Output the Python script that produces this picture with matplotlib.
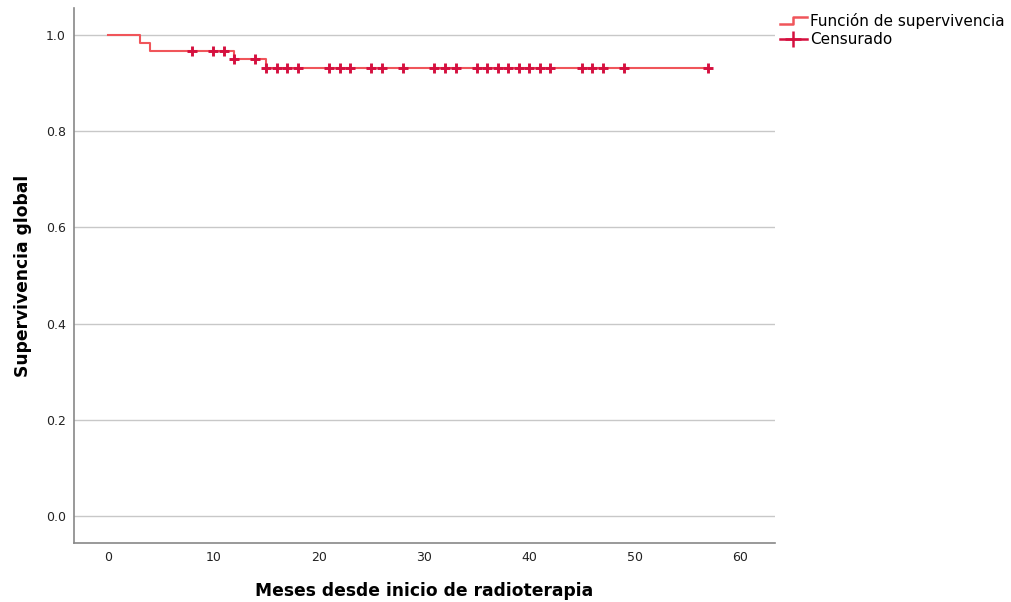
import matplotlib
matplotlib.use('Agg')
import matplotlib.pyplot as plt
from matplotlib.lines import Line2D
from matplotlib.legend_handler import HandlerBase

# Kaplan-Meier step function (time in months, survival)
step_times = [0, 3, 4, 12, 15, 57]
step_surv = [1.0, 0.983, 0.967, 0.950, 0.932, 0.932]

# Censored observations (months)
censor_times = [8, 10, 11, 12, 14, 15, 16, 17, 18, 21, 22, 23, 25, 26, 28,
                31, 32, 33, 35, 36, 37, 38, 39, 40, 41, 42, 45, 46, 47, 49, 57]

yticks = [0.0, 0.2, 0.4, 0.6, 0.8, 1.0]
xticks = [0, 10, 20, 30, 40, 50, 60]

line_color = '#f0555a'
censor_color = '#d5103f'


def surv_at(t):
    s = step_surv[0]
    for tt, ss in zip(step_times, step_surv):
        if tt <= t:
            s = ss
    return s


censor_surv = [surv_at(t) for t in censor_times]


class StepHandler(HandlerBase):
    def create_artists(self, legend, orig_handle, xdescent, ydescent,
                       width, height, fontsize, trans):
        x0, x1 = -xdescent, -xdescent + width
        xm = x0 + width * 0.5
        ylo, yhi = -ydescent + height * 0.2, -ydescent + height * 0.85
        ln = Line2D([x0, xm, xm, x1], [ylo, ylo, yhi, yhi],
                    color=line_color, lw=1.8, transform=trans)
        return [ln]


fig = plt.figure(figsize=(10.11, 6.02), dpi=100)
ax = fig.add_axes([0.0732, 0.098, 0.6934, 0.8887])

ax.step(step_times, step_surv, where='post', color=line_color, lw=1.5,
        zorder=3)
ax.plot(censor_times, censor_surv, linestyle='none', marker='+',
        markersize=7.5, markeredgewidth=2.1, color=censor_color, zorder=4)

ax.set_xlim(-3.23, 63.34)
ax.set_ylim(-0.056, 1.056)
ax.set_xticks(xticks)
ax.set_yticks(yticks)
ax.set_xticklabels([str(x) for x in xticks])
ax.set_yticklabels(['%.1f' % y for y in yticks])
ax.tick_params(axis='both', length=0, labelsize=9, colors='#222222')
ax.tick_params(axis='x', pad=6)
ax.tick_params(axis='y', pad=6)
ax.yaxis.grid(True, color='#c8c8c8', lw=1)
ax.set_axisbelow(True)

for side in ['top', 'right']:
    ax.spines[side].set_visible(False)
for side in ['left', 'bottom']:
    ax.spines[side].set_color('#888888')
    ax.spines[side].set_linewidth(1.2)

ax.set_xlabel('Meses desde inicio de radioterapia', fontsize=12.3,
              fontweight='bold', labelpad=13)
ax.set_ylabel('Supervivencia global', fontsize=12.3, fontweight='bold',
              labelpad=10)

step_handle = Line2D([], [], color=line_color)
censor_handle = Line2D([], [], color=censor_color, marker='+', markersize=11,
                       markeredgewidth=1.8, lw=1.8)
fig.legend([step_handle, censor_handle],
           ['Función de supervivencia', 'Censurado'],
           handler_map={step_handle: StepHandler()},
           loc='upper left', bbox_to_anchor=(0.765, 0.988),
           frameon=False, fontsize=11, handlelength=1.8,
           handletextpad=0.2, labelspacing=0.2, borderaxespad=0)

fig.savefig('out.png', dpi=100)
